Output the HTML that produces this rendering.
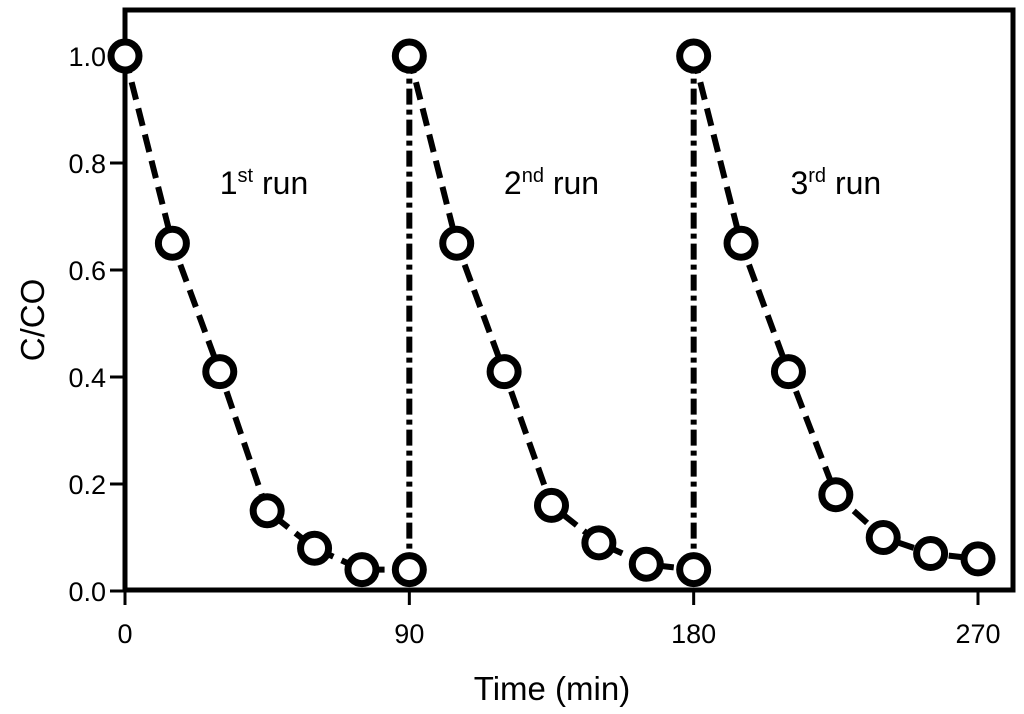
<!DOCTYPE html>
<html><head><meta charset="utf-8"><style>
body{margin:0;background:#fff}
svg text{font-family:"Liberation Sans",sans-serif;fill:#000}
</style></head><body>
<svg id="chart" width="1024" height="709" viewBox="0 0 1024 709">
<g id="frame"></g>
<g id="axes"></g>
<g id="lines"></g>
<g id="marks"></g>
<g id="labels"></g>
</svg>
<script>
const times=[0,15,30,45,60,75,90,105,120,135,150,165,180,195,210,225,240,255,270];
const run1=[1.0,0.65,0.41,0.15,0.08,0.04,0.04];
const run2=[1.0,0.65,0.41,0.16,0.09,0.05,0.04];
const run3=[1.0,0.65,0.41,0.18,0.10,0.07,0.06];
const runStarts=[0,90,180];
const xTicks=[0,90,180,270];
const yTicks=[0.0,0.2,0.4,0.6,0.8,1.0];
const runLabels=[["1","st"],["2","nd"],["3","rd"]];
const runLabelX=[44,135,225];

const NS="http://www.w3.org/2000/svg";
const X=t=>125+t*(853/270);
const Y=v=>591-v*535;
function mk(tag,attrs,parent){const e=document.createElementNS(NS,tag);for(const k in attrs)e.setAttribute(k,attrs[k]);document.getElementById(parent).appendChild(e);return e;}

let fr=mk('rect',{x:125,y:10,width:888,height:580,fill:'none',stroke:'#000','stroke-width':5},'frame');



xTicks.forEach(t=>{
  let l=mk('line',{x1:X(t),x2:X(t),y1:590,y2:605,stroke:'#000','stroke-width':3},'axes');
  
  
  let tx=mk('text',{x:X(t),y:643,'font-size':27,'text-anchor':'middle'},'axes');tx.textContent=t;
  
  
});
yTicks.forEach(v=>{
  let l=mk('line',{x1:110,x2:125,y1:Y(v),y2:Y(v),stroke:'#000','stroke-width':3},'axes');
  
  
  let tx=mk('text',{x:106,y:Y(v)+10,'font-size':27,'text-anchor':'end'},'axes');tx.textContent=v.toFixed(1);
  
  
});
let xt=mk('text',{x:552,y:700,'font-size':33,'text-anchor':'middle'},'axes');xt.textContent='Time (min)';


let yt=mk('text',{x:0,y:0,'font-size':33,'text-anchor':'middle',transform:'translate(44,320) rotate(-90)'},'axes');yt.textContent='C/CO';



[run1,run2,run3].forEach((run,ri)=>{
  const t0=runStarts[ri];
  const pts=run.map((v,i)=>[X(t0+i*15),Y(v)]);
  let p=mk('polyline',{points:pts.map(p=>p.join(',')).join(' '),fill:'none',stroke:'#000','stroke-width':6,'stroke-dasharray':'18,9'},'lines');
  
  
  if(ri>0){
    const prev=[run1,run2][ri-1];
    let d=mk('line',{x1:X(t0),x2:X(t0),y1:Y(prev[prev.length-1]),y2:Y(run[0]),stroke:'#000','stroke-width':6,'stroke-dasharray':'16,5,5,5'},'lines');
    
    
  }
  pts.forEach(pt=>{
    let c=mk('circle',{cx:pt[0],cy:pt[1],r:14,fill:'#fff',stroke:'#000','stroke-width':7},'marks');
    
    
  });
  let lb=mk('text',{x:X(runLabelX[ri]),y:194,'font-size':32,'text-anchor':'middle'},'labels');
  lb.innerHTML=runLabels[ri][0]+'<tspan dy="-12" font-size="20">'+runLabels[ri][1]+'</tspan><tspan dy="12"> run</tspan>';
  
  
});
</script>
</body></html>
